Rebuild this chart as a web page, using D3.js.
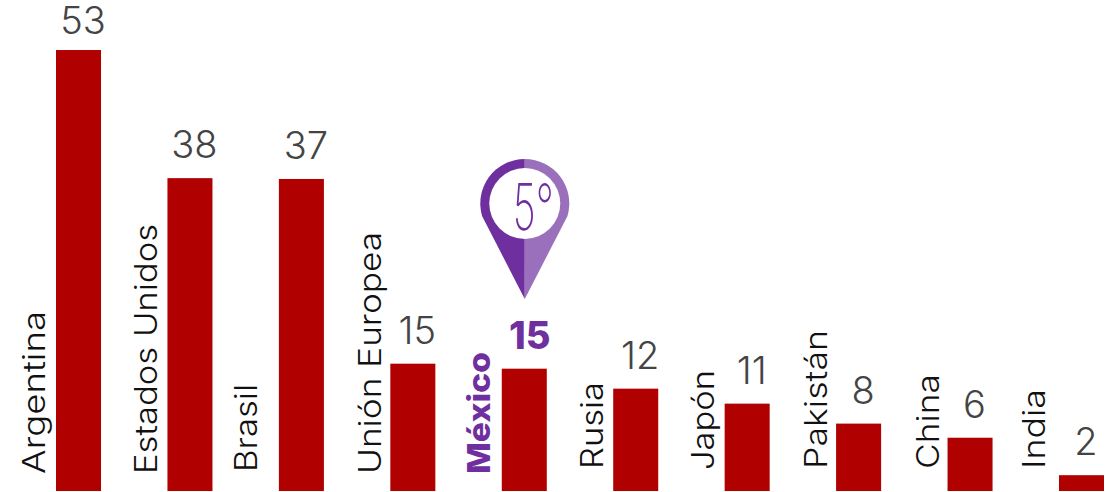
<!DOCTYPE html>
<html>
<head>
<meta charset="utf-8">
<style>
  html, body { margin: 0; padding: 0; background: #fff; }
  svg { display: block; }
  text { font-family: Inter, "Open Sans", sans-serif; }
</style>
</head>
<body>
<svg id="chart" width="1109" height="492"></svg>
<script src="https://d3js.org/d3.v7.min.js"></script>
<script>
  // bar heights, printed labels are the rounded figures of the source
  var countries = ["Argentina", "Estados Unidos", "Brasil", "Unión Europea", "México", "Rusia", "Japón", "Pakistán", "China", "India"];
  var values = [53, 37.6, 37.5, 15.3, 14.7, 12.3, 10.5, 8.1, 6.4, 1.9];
  var valueLabels = ["53", "38", "37", "15", "15", "12", "11", "8", "6", "2"];

  // where each rotated name sits relative to its bar, and how long it runs
  var nameOffsetX = [-11, -10, -22, -9, -12, -10, -11, -9, -9, -14];
  var nameBottomY = [474, 474, 472, 474, 474, 469, 470, 469, 469, 469];
  var nameLengths = [163, 250, 88, 242, 122, 87, 100, 139, 95, 80];

  var highlight = "México";
  var rankLabel = "5°";

  var x = d3.scaleBand().domain(countries).range([56, 1104]).paddingInner(66.4 / 111.4).paddingOuter(0);
  var y = d3.scaleLinear().domain([0, 53]).range([491, 50]);

  var svg = d3.select("#chart");
  var purple = "#6f2f9f";

  svg.selectAll(".bar")
    .data(countries)
    .enter()
    .append("rect")
    .attr("class", "bar")
    .attr("x", d => x(d))
    .attr("y", (d, i) => y(values[i]))
    .attr("width", x.bandwidth())
    .attr("height", (d, i) => y(0) - y(values[i]))
    .attr("fill", "#b00000");

  svg.selectAll(".value")
    .data(countries)
    .enter()
    .append("text")
    .attr("class", "value")
    .attr("x", d => x(d) + x.bandwidth() / 2 + (d === highlight ? 5.5 : 4.5))
    .attr("y", (d, i) => Math.max(y(values[i]) - 20, 34))
    .attr("text-anchor", "middle")
    .attr("font-size", 38)
    .attr("font-weight", d => d === highlight ? 800 : 300)
    .attr("fill", d => d === highlight ? purple : "#444")
    .text((d, i) => valueLabels[i]);

  svg.selectAll(".name")
    .data(countries)
    .enter()
    .append("text")
    .attr("class", "name")
    .attr("transform", (d, i) => "translate(" + (x(d) + nameOffsetX[i]) + "," + nameBottomY[i] + ") rotate(-90)")
    .attr("font-size", 31)
    .attr("font-weight", d => d === highlight ? 800 : 300)
    .attr("fill", d => d === highlight ? purple : "#111")
    .attr("textLength", (d, i) => nameLengths[i])
    .attr("lengthAdjust", "spacingAndGlyphs")
    .text(d => d);

  // location pin over México
  var px = x(highlight) + x.bandwidth() / 2 + 0.5, py = 203.5, r = 44.5, tip = 95.5;
  var pin = svg.append("g").attr("transform", "translate(" + px + "," + py + ")");
  pin.append("path")
    .attr("d", "M0," + (-r) + "A" + r + "," + r + " 0 0 0 " + (-r * 0.96) + "," + (r * 0.28) + "L0," + tip + "Z")
    .attr("fill", purple);
  pin.append("path")
    .attr("d", "M0," + (-r) + "A" + r + "," + r + " 0 0 1 " + (r * 0.96) + "," + (r * 0.28) + "L0," + tip + "Z")
    .attr("fill", "#9a6fbb");
  pin.append("circle").attr("r", 35.5).attr("fill", "#fff");
  pin.append("text")
    .attr("x", -12)
    .attr("y", 26.5)
    .attr("font-size", 65)
    .attr("font-weight", 200)
    .attr("fill", purple)
    .attr("textLength", 41)
    .attr("lengthAdjust", "spacingAndGlyphs")
    .text(rankLabel);
</script>
</body>
</html>
